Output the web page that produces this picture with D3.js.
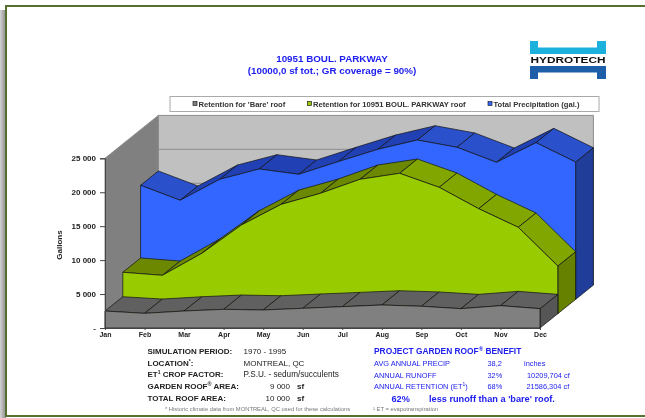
<!DOCTYPE html>
<html>
<head>
<meta charset="utf-8">
<script src="https://cdn.jsdelivr.net/npm/d3@7"></script>
<style>
  body { margin: 0; background: #fff; }
  svg { display: block; font-family: "Liberation Sans", Arial, sans-serif; filter: blur(0.3px); }
</style>
</head>
<body>
<svg id="chart"></svg>
<script>
const w = 645, h = 418;

const months = ['Jan','Feb','Mar','Apr','May','Jun','Jul','Aug','Sep','Oct','Nov','Dec'];
const bareRoof = [2500,2160,2500,2750,2650,2900,3140,3390,3200,2850,3290,2850];
const gardenRoof = [6100,5650,8900,13070,16100,17740,19800,20680,18620,15470,12730,7030];
const precipitation = [16810,14600,17690,19210,18430,20300,22110,23480,22410,20200,23090,20240];
const yTicks = [0,5000,10000,15000,20000,25000];
const legendLabels = ["Retention for 'Bare' roof", 'Retention for 10951 BOUL. PARKWAY roof', 'Total Precipitation (gal.)'];
const leftLabels = ['SIMULATION PERIOD:', 'LOCATION', 'ET', 'GARDEN ROOF', 'TOTAL ROOF AREA:'];

const svg = d3.select('#chart').attr('width', w).attr('height', h);

const defs = svg.append('defs');
const shadow = defs.append('linearGradient').attr('id', 'frameShadow');
shadow.append('stop').attr('offset', '0%').attr('stop-color', '#d4d4d4');
shadow.append('stop').attr('offset', '100%').attr('stop-color', '#8a8a8a');

// page frame
svg.append('rect').attr('x', 0).attr('y', 10).attr('width', 6).attr('height', h - 10).attr('fill', 'url(#frameShadow)');
svg.append('rect').attr('x', 6).attr('y', 6).attr('width', w).attr('height', 410)
    .attr('fill', '#fff').attr('stroke', '#55702f').attr('stroke-width', 2);

const xScale = d3.scalePoint().domain(months).range([105, 540]);
const yScale = d3.scaleLinear().domain([0, 25000]).range([328, 158.3]);

// one step back in depth, there are 3 series so 3 steps to the back wall
const depth = { x: 17.8, y: -14.3 };
const pt = (m, v, z) => [xScale(m) + z * depth.x, yScale(v) + z * depth.y];
const poly = points => points.map(p => p.join(',')).join(' ');

// walls
const walls = svg.append('g');
walls.append('polygon')
    .attr('points', poly([pt('Jan', 25000, 3), pt('Dec', 25000, 3), pt('Dec', 0, 3), pt('Jan', 0, 3)]))
    .attr('fill', '#c0c0c0').attr('stroke', '#8c8c8c');
walls.append('polygon')
    .attr('points', poly([pt('Jan', 25000, 0), pt('Jan', 25000, 3), pt('Jan', 0, 3), pt('Jan', 0, 0)]))
    .attr('fill', '#808080').attr('stroke', '#8c8c8c');
walls.selectAll('line')
    .data(yTicks.slice(1, -1))
    .join('line')
    .attr('x1', xScale('Jan') + 3 * depth.x).attr('x2', xScale('Dec') + 3 * depth.x)
    .attr('y1', d => yScale(d) + 3 * depth.y).attr('y2', d => yScale(d) + 3 * depth.y)
    .attr('stroke', '#8c8c8c').attr('stroke-width', 1);

// back to front, same as the 3d area chart paints them
const layers = [
    { values: precipitation, z: 2, front: '#3366ff', up: '#2040b4', down: '#2a50cc', side: '#1f3d99' },
    { values: gardenRoof, z: 1, front: '#99cc00', up: '#6c8800', down: '#82a600', side: '#668000' },
    { values: bareRoof, z: 0, front: '#808080', up: '#606060', down: '#606060', side: '#565656' }
];

layers.forEach(layer => {
    const g = svg.append('g');
    const z = layer.z;
    const last = months.length - 1;

    // right end
    g.append('polygon')
        .attr('points', poly([
            pt('Dec', layer.values[last], z), pt('Dec', layer.values[last], z + 1),
            pt('Dec', 0, z + 1), pt('Dec', 0, z)]))
        .attr('fill', layer.side).attr('stroke', '#111').attr('stroke-width', 0.7);

    // top surface, one strip per month, only a real drop catches the light
    g.selectAll('polygon.top')
        .data(d3.pairs(months.map((m, i) => ({ m, v: layer.values[i] }))))
        .join('polygon')
        .attr('class', 'top')
        .attr('points', ([a, b]) => poly([pt(a.m, a.v, z), pt(a.m, a.v, z + 1), pt(b.m, b.v, z + 1), pt(b.m, b.v, z)]))
        .attr('fill', ([a, b]) => a.v - b.v > 1000 ? layer.down : layer.up)
        .attr('stroke', '#111').attr('stroke-width', 0.7);

    // front face
    const area = d3.area()
        .x((v, i) => pt(months[i], v, z)[0])
        .y0(yScale(0) + z * depth.y)
        .y1(v => yScale(v) + z * depth.y);
    g.append('path')
        .attr('d', area(layer.values))
        .attr('fill', layer.front).attr('stroke', '#111').attr('stroke-width', 0.7);
});

// axes
const yAxis = d3.axisLeft(yScale)
    .tickValues(yTicks)
    .tickSize(5)
    .tickPadding(4)
    .tickFormat(d => d === 0 ? '-' : d3.format(',')(d).replace(',', ' '));
const yAxisGroup = svg.append('g').attr('transform', 'translate(105,0)').call(yAxis);
const xAxis = d3.axisBottom(xScale).tickSize(2).tickPadding(2);
const xAxisGroup = svg.append('g').attr('transform', 'translate(0,328)').call(xAxis);
[yAxisGroup, xAxisGroup].forEach(a => {
    a.attr('font-family', null).attr('font-size', null);
    a.selectAll('path,line').attr('stroke', '#444');
    a.selectAll('text').attr('fill', '#222').attr('font-weight', 'bold');
});
yAxisGroup.selectAll('text').attr('font-size', 8);
xAxisGroup.selectAll('text').attr('font-size', 7);

svg.append('text')
    .attr('transform', 'translate(62,245) rotate(-90)')
    .attr('text-anchor', 'middle')
    .attr('font-size', 8).attr('font-weight', 'bold').attr('fill', '#222')
    .text('Gallons');

// title
const title = svg.append('g').attr('text-anchor', 'middle')
    .attr('font-size', 9.8).attr('font-weight', 'bold').attr('fill', '#2020ee');
title.append('text').attr('x', 332).attr('y', 62).text('10951 BOUL. PARKWAY');
title.append('text').attr('x', 332).attr('y', 73.5).text('(10000,0 sf tot.; GR coverage = 90%)');

// legend
const legend = svg.append('g');
legend.append('rect')
    .attr('x', 170).attr('y', 96.5).attr('width', 429).attr('height', 15)
    .attr('fill', '#fff').attr('stroke', '#aaa');
const legendX = [193, 307.5, 488];
const legendFill = ['#808080', '#99cc00', '#3366ff'];
legendLabels.forEach((label, i) => {
    legend.append('rect')
        .attr('x', legendX[i]).attr('y', 101.5).attr('width', 4).attr('height', 4)
        .attr('fill', legendFill[i]).attr('stroke', '#222').attr('stroke-width', 0.7);
    legend.append('text')
        .attr('x', legendX[i] + 5.5).attr('y', 106.5)
        .attr('font-size', 7.6).attr('font-weight', 'bold').attr('fill', '#333')
        .text(label);
});

// logo
const logo = svg.append('g');
const logoBars = [
    { y: 41, fill: '#1cb0dc', notch: 'top' },
    { y: 66, fill: '#1c5fa8', notch: 'bottom' }
];
logoBars.forEach(b => {
    logo.append('rect').attr('x', 530).attr('y', b.y).attr('width', 76).attr('height', 13).attr('fill', b.fill);
    logo.append('rect')
        .attr('x', 538).attr('y', b.notch === 'top' ? b.y : b.y + 6.5)
        .attr('width', 59).attr('height', 6.5).attr('fill', '#fff');
});
logo.append('text')
    .attr('x', 568).attr('y', 62.8).attr('text-anchor', 'middle')
    .attr('font-size', 9.5).attr('font-weight', 'bold').attr('fill', '#111')
    .attr('textLength', 75).attr('lengthAdjust', 'spacingAndGlyphs')
    .text('HYDROTECH');

// simulation block, left
const info = svg.append('g').attr('font-size', 8).attr('fill', '#222');
const rowY = [354, 365.5, 377, 389, 401];
const leftRows = info.append('g').attr('font-weight', 'bold');
leftLabels.forEach((label, i) => {
    const t = leftRows.append('text').attr('x', 147.5).attr('y', rowY[i]).text(label);
    if (i === 1) {
        t.append('tspan').attr('font-size', 5).attr('dy', -3).text('*');
        t.append('tspan').attr('dy', 3).text(':');
    }
    if (i === 2) {
        t.append('tspan').attr('font-size', 5).attr('dy', -3).text('1');
        t.append('tspan').attr('dy', 3).text(' CROP FACTOR:');
    }
    if (i === 3) {
        t.append('tspan').attr('font-size', 5.5).attr('dy', -3).text('®');
        t.append('tspan').attr('dy', 3).text(' AREA:');
    }
});
info.append('text').attr('x', 243.5).attr('y', rowY[0]).text('1970 - 1995');
info.append('text').attr('x', 243.5).attr('y', rowY[1]).text('MONTREAL, QC');
info.append('text').attr('x', 243.5).attr('y', rowY[2]).attr('font-size', 8.2).text('P.S.U. - sedum/succulents');
info.append('text').attr('x', 290).attr('y', rowY[3]).attr('text-anchor', 'end').text('9 000');
info.append('text').attr('x', 290).attr('y', rowY[4]).attr('text-anchor', 'end').text('10 000');
info.append('text').attr('x', 297).attr('y', rowY[3]).attr('font-weight', 'bold').text('sf');
info.append('text').attr('x', 297).attr('y', rowY[4]).attr('font-weight', 'bold').text('sf');
svg.append('text').attr('x', 165).attr('y', 411).attr('font-size', 5.8).attr('fill', '#777')
    .text('* Historic climate data from MONTREAL, QC used for these calculations');

// benefit block, right
const benefit = svg.append('g').attr('fill', '#2020ee').attr('font-size', 7.4);
const head = benefit.append('text').attr('x', 374).attr('y', 354).attr('font-size', 8.4).attr('font-weight', 'bold')
    .text('PROJECT GARDEN ROOF');
head.append('tspan').attr('font-size', 6).attr('dy', -3).text('®');
head.append('tspan').attr('dy', 3).text(' BENEFIT');
benefit.append('text').attr('x', 374).attr('y', 365.5).text('AVG ANNUAL PRECIP');
benefit.append('text').attr('x', 374).attr('y', 377.5).text('ANNUAL RUNOFF');
const ret = benefit.append('text').attr('x', 374).attr('y', 389).text('ANNUAL RETENTION (ET');
ret.append('tspan').attr('font-size', 5).attr('dy', -3).text('1');
ret.append('tspan').attr('dy', 3).text(')');
benefit.append('text').attr('x', 487.5).attr('y', 365.5).text('38,2');
benefit.append('text').attr('x', 487.5).attr('y', 377.5).text('32%');
benefit.append('text').attr('x', 487.5).attr('y', 389).text('68%');
benefit.append('text').attr('x', 524).attr('y', 365.5).text('inches');
benefit.append('text').attr('x', 527).attr('y', 377.5).text('10209,704 cf');
benefit.append('text').attr('x', 526.5).attr('y', 389).text('21586,304 cf');
benefit.append('text').attr('x', 391.5).attr('y', 401.5).attr('font-size', 9.2).attr('font-weight', 'bold').text('62%');
benefit.append('text').attr('x', 429).attr('y', 401.5).attr('font-size', 9.2).attr('font-weight', 'bold').text("less runoff than a 'bare' roof.");
svg.append('text').attr('x', 373).attr('y', 411).attr('font-size', 5.8).attr('fill', '#777')
    .text('¹ ET = evapotranspiration');
</script>
</body>
</html>
